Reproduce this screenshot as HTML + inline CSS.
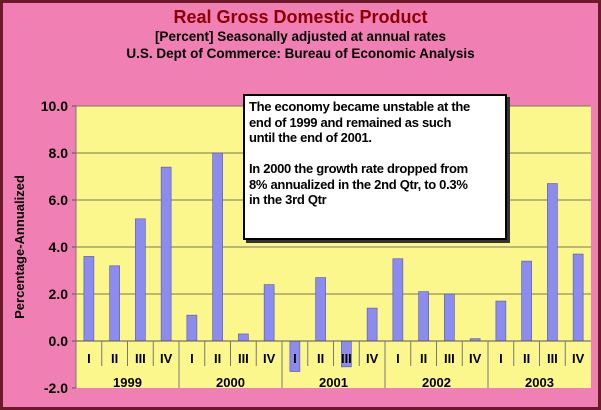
<!DOCTYPE html>
<html><head><meta charset="utf-8"><style>
body{margin:0;width:601px;height:410px;overflow:hidden;background:#f07fb4;font-family:"Liberation Sans",Arial,sans-serif}
#frame{position:absolute;left:0;top:0;width:595px;height:404px;border:3px solid #6b1a2a;background:#f07fb4}
.t{position:absolute;left:0;width:601px;text-align:center;font-weight:bold}
#note{position:absolute;left:243px;top:94px;width:252px;height:136px;background:#fff;border:2px solid #000;box-shadow:3px 3px 0 #333;font-weight:bold;font-size:13px;letter-spacing:-0.3px;line-height:15.5px;padding:3px 4px;color:#000;white-space:nowrap}
</style></head><body>
<div id="frame"></div>
<div class="t" style="top:7px;font-size:18px;color:#8b0000">Real Gross Domestic Product</div>
<div class="t" style="top:29px;font-size:13.5px">[Percent] Seasonally adjusted at annual rates</div>
<div class="t" style="top:46px;font-size:13.5px">U.S. Dept of Commerce: Bureau of Economic Analysis</div>
<svg width="601" height="410" style="position:absolute;left:0;top:0" id="chart"></svg>
<div id="note">The economy became unstable at the<br>end of 1999 and remained as such<br>until the end of 2001.<br><br>In 2000 the growth rate dropped from<br>8% annualized in the 2nd Qtr, to 0.3%<br>in the 3rd Qtr</div>
<script>
const quarters=["I","II","III","IV","I","II","III","IV","I","II","III","IV","I","II","III","IV","I","II","III","IV"];
const years=["1999","2000","2001","2002","2003"];
const values=[3.6,3.2,5.2,7.4,1.1,8.0,0.3,2.4,-1.3,2.7,-1.1,1.4,3.5,2.1,2.0,0.1,1.7,3.4,6.7,3.7];
const yTicks=[10,8,6,4,2,0,-2];
const X0=76,X1=591,YMIN=-2,YMAX=10,PY0=388,PY1=106;
const y=v=>PY0-(v-YMIN)/(YMAX-YMIN)*(PY0-PY1);
const cw=(X1-X0)/values.length;
const x=i=>X0+i*cw;
const svg=document.getElementById('chart');
const NS="http://www.w3.org/2000/svg";
function mk(t,a){const e=document.createElementNS(NS,t);for(const k in a)e.setAttribute(k,a[k]);svg.appendChild(e);return e;}
let r=mk('rect',{x:X0,y:PY1,width:X1-X0,height:PY0-PY1,fill:'#fbf78c'});


yTicks.forEach(v=>{
 if(v>0){let g=mk('line',{x1:X0,x2:X1,y1:y(v),y2:y(v),stroke:'#7a7a50','stroke-width':1});
 
 }
 let t=mk('text',{x:X0-8,y:y(v)+5,'text-anchor':'end','font-size':14,'font-weight':'bold','font-family':'Liberation Sans,sans-serif'});
 t.textContent=v.toFixed(1);
 
 
 let tk=mk('line',{x1:X0-4,x2:X0,y1:y(v),y2:y(v),stroke:'#555'});
 
 
});
let ax=mk('line',{x1:X0,x2:X0,y1:PY1,y2:PY0,stroke:'#777'});


values.forEach((v,i)=>{
 const bw=10,bx=x(i)+cw/2-bw/2;
 let b=mk('rect',{x:bx,y:Math.min(y(v),y(0)),width:bw,height:Math.abs(y(v)-y(0)),fill:'#8b8bf0',stroke:'#5555aa','stroke-width':0.6});
 
 
});
let z=mk('line',{x1:X0,x2:X1,y1:y(0),y2:y(0),stroke:'#555'});


quarters.forEach((q,i)=>{
 let t=mk('text',{x:x(i)+cw/2,y:y(0)+22,'text-anchor':'middle','font-size':13,'font-weight':'bold','font-family':'Liberation Sans,sans-serif'});
 t.textContent=q;
 
 
 if(i>0){const yr=i%4==0;let s=mk('line',{x1:x(i),x2:x(i),y1:y(0),y2:yr?PY0:y(0)+25,stroke:'#777'});
 
 }
});
years.forEach((yr,j)=>{
 let t=mk('text',{x:x(j*4)+cw*2,y:PY0-1,'text-anchor':'middle','font-size':13,'font-weight':'bold','font-family':'Liberation Sans,sans-serif'});
 t.textContent=yr;
 
 
});
let yt=mk('text',{x:0,y:0,transform:'translate(24,247) rotate(-90)','text-anchor':'middle','font-size':13,'font-weight':'bold','font-family':'Liberation Sans,sans-serif'});
yt.textContent='Percentage-Annualized';


</script>
</body></html>
